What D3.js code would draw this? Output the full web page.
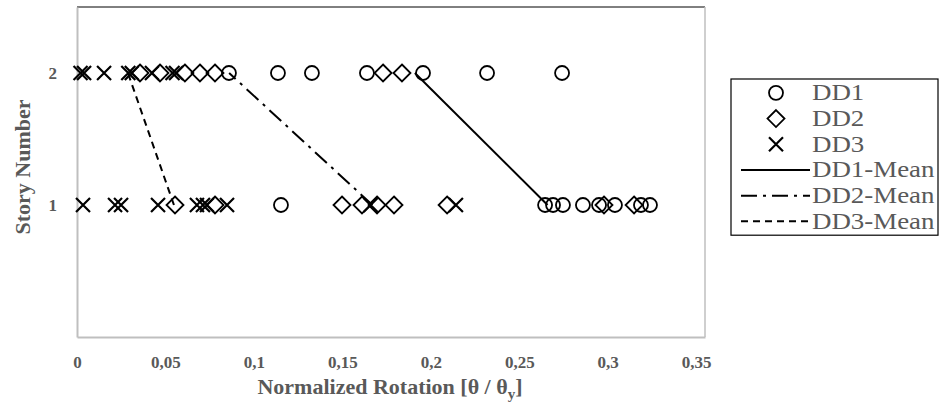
<!DOCTYPE html>
<html>
<head>
<meta charset="utf-8">
<script src="https://cdn.jsdelivr.net/npm/d3@7"></script>
<style>
  html, body { margin: 0; padding: 0; background: #fff; }
  svg { display: block; }
  text { font-family: "Liberation Serif", "Times New Roman", serif; }
</style>
</head>
<body>
<svg id="chart" width="943" height="409"></svg>
<script>
// Normalized rotation per story, for each design set
const stories = [1, 2];
const dd1Story1 = [0.1153, 0.2646, 0.2691, 0.2747, 0.2860, 0.2951, 0.3041, 0.3188, 0.3239];
const dd1Story2 = [0.0859, 0.1136, 0.1328, 0.1639, 0.1956, 0.2318, 0.2742];
const dd2Story1 = [0.0554, 0.0780, 0.1498, 0.1611, 0.1696, 0.1792, 0.2092, 0.2979, 0.3149];
const dd2Story2 = [0.0356, 0.0469, 0.0610, 0.0695, 0.0780, 0.1730, 0.1837];
const dd3Story1 = [0.0034, 0.0215, 0.0249, 0.0458, 0.0678, 0.0712, 0.0735, 0.0848, 0.1660, 0.2142];
const dd3Story2 = [0.0020, 0.0040, 0.0153, 0.0290, 0.0310, 0.0424, 0.0540, 0.0560];
// Mean rotation per story (story 1, story 2)
const dd1Mean = [0.266, 0.191];
const dd2Mean = [0.167, 0.086];
const dd3Mean = [0.0548, 0.0288];
const xTicks = [0, 0.05, 0.1, 0.15, 0.2, 0.25, 0.3, 0.35];
const yTicks = [1, 2];
const legendLabels = ["DD1", "DD2", "DD3", "DD1-Mean", "DD2-Mean", "DD3-Mean"];

const svg = d3.select("#chart");
const plotLeft = 77, plotRight = 705, plotTop = 7, plotBottom = 337;

const x = d3.scaleLinear().domain([0, 0.355]).range([plotLeft, plotRight]);
const y = d3.scaleLinear().domain([0, 2.5]).range([plotBottom, plotTop]);

const grey = "#595959";
const axisGrey = "#bfbfbf";

// plot frame
svg.append("line").attr("x1", plotLeft).attr("x2", plotRight).attr("y1", plotTop).attr("y2", plotTop)
  .attr("stroke", "#000").attr("stroke-width", 1);
svg.append("line").attr("x1", plotRight).attr("x2", plotRight).attr("y1", plotTop).attr("y2", plotBottom)
  .attr("stroke", axisGrey).attr("stroke-width", 1.5);

// axes
const xAxis = d3.axisBottom(x).tickValues(xTicks).tickSize(0).tickPadding(19)
  .tickFormat(d => d3.format("")(d).replace(".", ","));
const gx = svg.append("g").attr("transform", `translate(0,${plotBottom})`).call(xAxis);
gx.select(".domain").attr("stroke", axisGrey).attr("stroke-width", 2);
gx.selectAll("text").attr("fill", grey).attr("font-size", 17).attr("font-weight", "bold")
  .style("font-family", "'Liberation Serif', serif");

const yAxis = d3.axisLeft(y).tickValues(yTicks).tickSize(0).tickPadding(20)
  .tickFormat(d3.format("d"));
const gy = svg.append("g").attr("transform", `translate(${plotLeft},0)`).call(yAxis);
gy.select(".domain").attr("stroke", axisGrey).attr("stroke-width", 2);
gy.selectAll("text").attr("fill", grey).attr("font-size", 17).attr("font-weight", "bold")
  .style("font-family", "'Liberation Serif', serif");

// axis titles
svg.append("text")
  .attr("transform", `translate(30,167) rotate(-90)`)
  .attr("text-anchor", "middle").attr("fill", grey)
  .attr("font-size", 22).attr("font-weight", "bold")
  .text("Story Number");

const xt = svg.append("text")
  .attr("x", (plotLeft + plotRight) / 2 - 1).attr("y", 394)
  .attr("text-anchor", "middle").attr("fill", grey)
  .attr("font-size", 22).attr("font-weight", "bold");
xt.append("tspan").text("Normalized Rotation [θ / θ");
xt.append("tspan").attr("font-size", 15).attr("dy", 5).text("y");
xt.append("tspan").attr("dy", -5).text("]");

// marker shapes
const circlePath = d3.symbol().type(d3.symbolCircle).size(Math.PI * 7 * 7)();
function diamondPath(h) { return `M0,${-h}L${h},0L0,${h}L${-h},0Z`; }
function crossPath(h) { return `M${-h},${-h}L${h},${h}M${-h},${h}L${h},${-h}`; }
const shapes = {
  DD1: { d: circlePath, w: 1.8 },
  DD2: { d: diamondPath(8.5), w: 1.8 },
  DD3: { d: crossPath(7), w: 2.2 }
};

// mean lines
const meanSeries = [
  { name: "DD1-Mean", values: dd1Mean, dash: null },
  { name: "DD2-Mean", values: dd2Mean, dash: "16,6,3,6" },
  { name: "DD3-Mean", values: dd3Mean, dash: "7,5" }
];
const line = d3.line().x(d => x(d.v)).y(d => y(d.s));
meanSeries.forEach(m => {
  svg.append("path")
    .datum(stories.map((s, i) => ({ s, v: m.values[i] })))
    .attr("d", line)
    .attr("fill", "none").attr("stroke", "#000").attr("stroke-width", 2)
    .attr("stroke-dasharray", m.dash);
});

// scatter markers
const pointSeries = [
  { name: "DD1", rows: [dd1Story1, dd1Story2] },
  { name: "DD2", rows: [dd2Story1, dd2Story2] },
  { name: "DD3", rows: [dd3Story1, dd3Story2] }
];
pointSeries.forEach(ps => {
  const pts = [];
  ps.rows.forEach((row, i) => row.forEach(v => pts.push({ s: stories[i], v })));
  svg.append("g").selectAll("path").data(pts).join("path")
    .attr("transform", d => `translate(${x(d.v)},${y(d.s)})`)
    .attr("d", shapes[ps.name].d)
    .attr("fill", "none").attr("stroke", "#000")
    .attr("stroke-width", shapes[ps.name].w);
});

// legend
const lgX = 731, lgY = 79, lgW = 207, rowH = 25.7;
svg.append("rect").attr("x", lgX).attr("y", lgY).attr("width", lgW)
  .attr("height", rowH * legendLabels.length + 2)
  .attr("fill", "#fff").attr("stroke", "#000").attr("stroke-width", 1.2);
legendLabels.forEach((lab, i) => {
  const cy = lgY + rowH * (i + 0.5) + 1;
  if (shapes[lab]) {
    svg.append("path").attr("transform", `translate(${lgX + 45},${cy})`)
      .attr("d", shapes[lab].d).attr("fill", "none").attr("stroke", "#000")
      .attr("stroke-width", shapes[lab].w);
  } else {
    const m = meanSeries.find(s => s.name === lab);
    svg.append("line").attr("x1", lgX + 10).attr("x2", lgX + 79).attr("y1", cy).attr("y2", cy)
      .attr("stroke", "#000").attr("stroke-width", 2).attr("stroke-dasharray", m.dash);
  }
  svg.append("text")
    .attr("transform", `translate(${lgX + 81},${cy + 7.5}) scale(1.17,1)`)
    .attr("fill", grey).attr("font-size", 23).text(lab);
});
</script>
</body>
</html>
